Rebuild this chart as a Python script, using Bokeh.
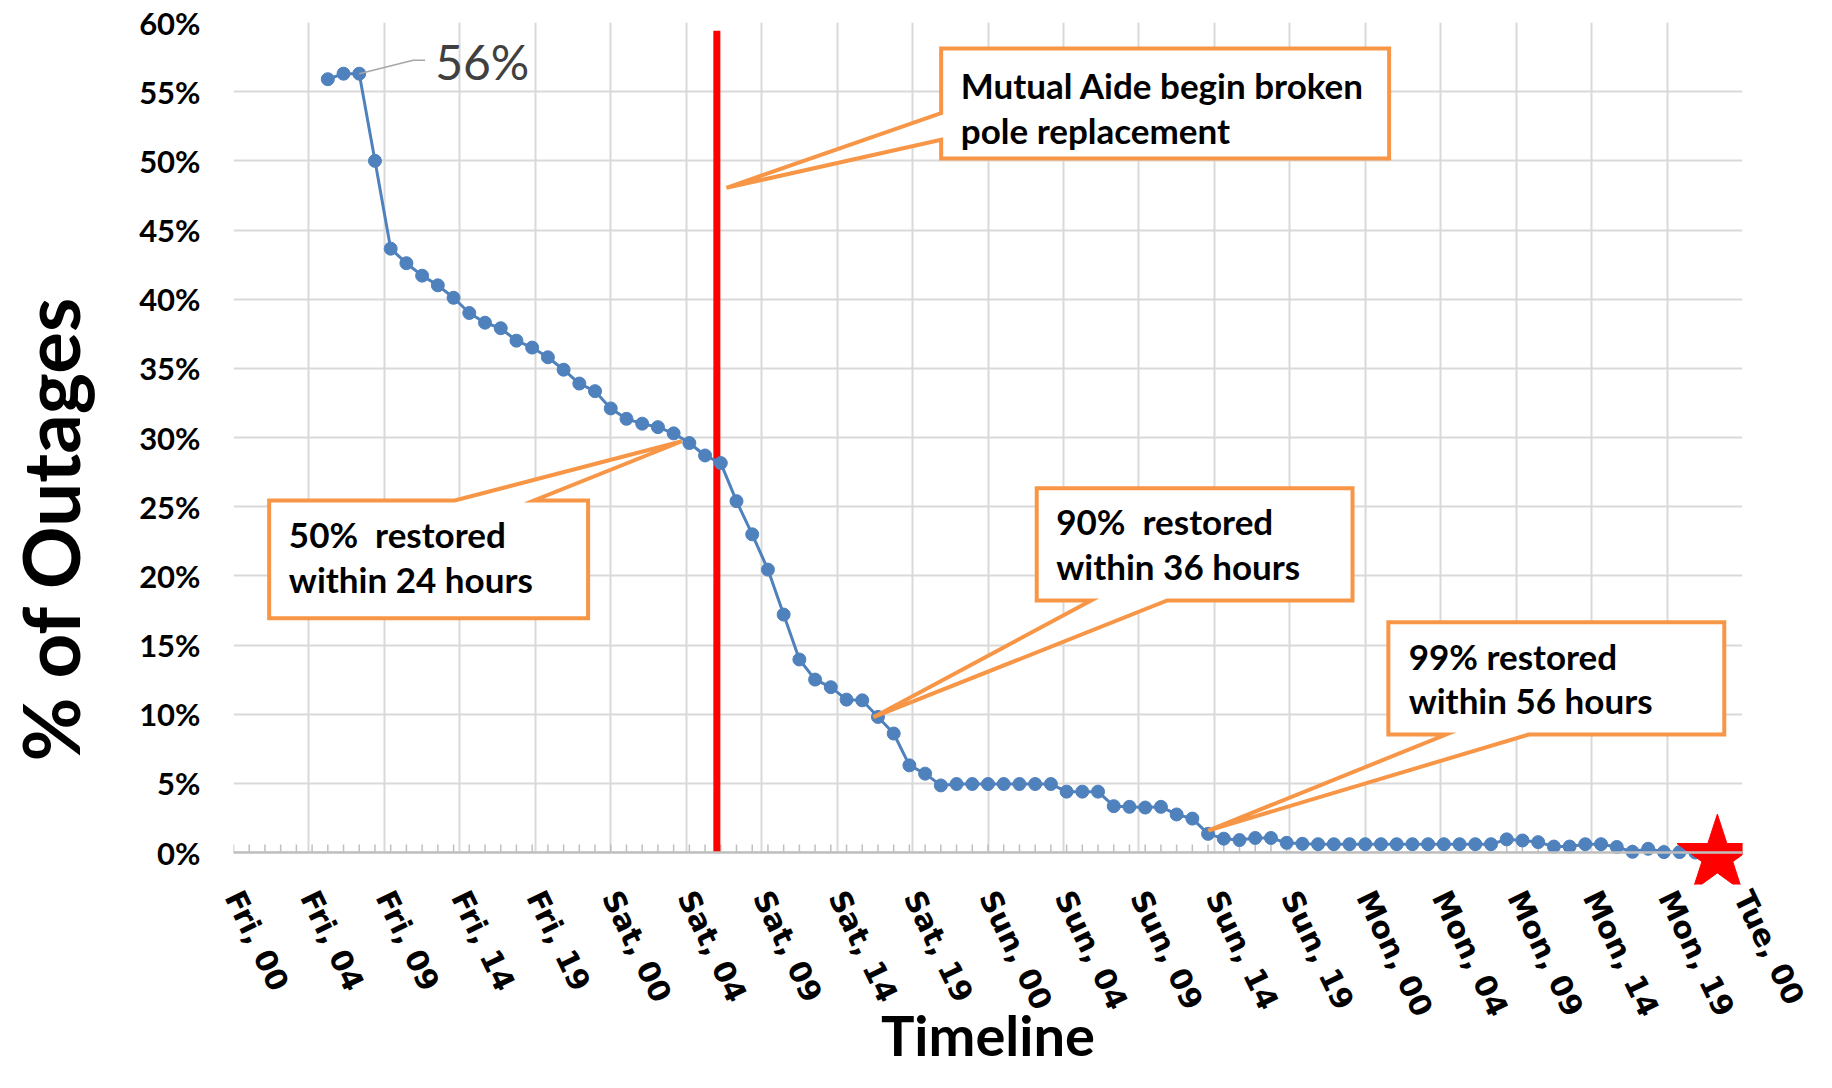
import math
from bokeh.plotting import figure
from bokeh.models import (FixedTicker, CustomJSTickFormatter, Range1d, LinearAxis,
                          BoxAnnotation, Span, Title)
from bokeh.embed import file_html
from bokeh.resources import INLINE
from bokeh.core.properties import value

# ---------------- data ----------------
hours = [6, 7, 8, 9, 10, 11, 12, 13, 14, 15, 16, 17, 18, 19, 20, 21, 22, 23, 24,
         25, 26, 27, 28, 29, 30, 31, 32, 33, 34, 35, 36, 37, 38, 39, 40, 41, 42, 43, 44, 45,
         46, 47, 48, 49, 50, 51, 52, 53, 54, 55,
         56, 57, 58, 59, 60, 61, 62, 63, 64, 65, 66, 67, 68,
         69, 70, 71, 72, 73, 74, 75, 76, 77, 78, 79, 80,
         81, 82, 83, 84, 85, 86, 87, 88, 89, 90, 91, 92, 93]
outage_pct = [55.9, 56.3, 56.3, 50.0, 43.65, 42.6, 41.7, 41.0, 40.1, 39.0, 38.3, 37.9, 37.0, 36.5,
              35.8, 34.9, 33.9, 33.35, 32.1,
              31.35, 31.0, 30.75, 30.3, 29.6, 28.7, 28.15, 25.4, 23.0, 20.45, 17.2, 13.95, 12.5,
              11.95, 11.05, 11.0, 9.8, 8.6, 6.3, 5.7, 4.85,
              4.95, 4.95, 4.95, 4.95, 4.95, 4.95, 4.95, 4.4, 4.4, 4.4,
              3.35, 3.3, 3.25, 3.3, 2.75, 2.45, 1.35, 1.0, 0.9, 1.05, 1.05, 0.7, 0.63,
              0.6, 0.6, 0.6, 0.6, 0.6, 0.6, 0.6, 0.6, 0.6, 0.6, 0.6, 0.6,
              0.95, 0.87, 0.75, 0.43, 0.43, 0.6, 0.6, 0.4, 0.05, 0.27, 0.03, 0.03, 0.0]

peak_hour = [8]
peak_pct = [56.3]
peak_label = ["56%"]

event_hour = [30.75]
event_top = [59.4]

star_hour = [94.4]
star_pct = [-0.3]

x_tick_hours = [0, 4.8, 9.6, 14.4, 19.2, 24, 28.8, 33.6, 38.4, 43.2, 48, 52.8, 57.6,
                62.4, 67.2, 72, 76.8, 81.6, 86.4, 91.2, 96]
x_tick_labels = ["Fri, 00", "Fri, 04", "Fri, 09", "Fri, 14", "Fri, 19",
                 "Sat, 00", "Sat, 04", "Sat, 09", "Sat, 14", "Sat, 19",
                 "Sun, 00", "Sun, 04", "Sun, 09", "Sun, 14", "Sun, 19",
                 "Mon, 00", "Mon, 04", "Mon, 09", "Mon, 14", "Mon, 19", "Tue, 00"]
x_minor_hours = list(range(0, 97))
y_tick_values = [0, 5, 10, 15, 20, 25, 30, 35, 40, 45, 50, 55, 60]
y_tick_labels = ["0%", "5%", "10%", "15%", "20%", "25%", "30%", "35%", "40%",
                 "45%", "50%", "55%", "60%"]

x_title = "Timeline"
y_title = "% of Outages"

# callouts: box (left, right, bottom, top), pointer geometry, text lines
callouts = [
    dict(box=(45.02, 73.52, 50.17, 58.12), side="left", attach=(51.52, 53.45), tip=(31.36, 48.05),
         text_x=46.27, text_y=(55.51, 52.26), lines=["Mutual Aide begin broken", "pole replacement"]),
    dict(box=(2.27, 22.56, 16.94, 25.45), side="top", attach=(14.08, 19.12), tip=(28.53, 29.73),
         text_x=3.52, text_y=(23.04, 19.79), lines=["50%\u00a0 restored", "within 24 hours"]),
    dict(box=(51.10, 71.19, 18.22, 26.34), side="bottom", attach=(54.56, 59.40), tip=(40.71, 9.78),
         text_x=52.34, text_y=(24.0, 20.68), lines=["90%\u00a0 restored", "within 36 hours"]),
    dict(box=(73.47, 94.84, 8.53, 16.65), side="bottom", attach=(77.14, 82.40), tip=(62.01, 1.59),
         text_x=74.76, text_y=(14.24, 10.99), lines=["99% restored", "within 56 hours"]),
]

FONT = "Lato"
BLUE = "#4F81BD"
ORANGE = "#F79646"
AXIS_GREY = "#bfbfbf"
Y_MIN = -2.313         # room below the zero line for the end marker
TICK_LEN = 0.58        # inner tick length (in % units, ~8 px)

p = figure(width=1816, height=1072, x_range=Range1d(0, 96), y_range=Range1d(Y_MIN, 60),
           output_backend="svg", toolbar_location=None,
           min_border_left=233, min_border_right=74, min_border_top=22, min_border_bottom=188)
p.outline_line_color = None
p.background_fill_color = "white"
p.border_fill_color = "white"

# ---- x axis (labels only; the visible axis line sits at 0 %) ----
xa = p.xaxis[0]
xa.ticker = FixedTicker(ticks=x_tick_hours, minor_ticks=x_minor_hours)
xa.formatter = CustomJSTickFormatter(
    args=dict(pos=x_tick_hours, labels=x_tick_labels),
    code="const k = pos.findIndex(v => Math.abs(v - tick) < 1e-6); return k >= 0 ? labels[k] : '';")
xa.axis_line_color = None
xa.major_tick_line_color = None
xa.minor_tick_line_color = None
xa.major_tick_in = 0
xa.major_tick_out = 0
xa.minor_tick_in = 0
xa.minor_tick_out = 0
xa.major_label_text_font = "DejaVu Sans"
xa.major_label_text_font_style = "bold"
xa.major_label_text_font_size = "30px"
xa.major_label_text_color = "black"
xa.major_label_orientation = -1.12
xa.major_label_standoff = 8
xa.axis_label = x_title
xa.axis_label_text_font = FONT
xa.axis_label_text_font_style = "bold"
xa.axis_label_text_font_size = "56px"
xa.axis_label_text_color = "black"
xa.axis_label_standoff = -32

# ---- y axis ----
ya = p.yaxis[0]
ya.ticker = FixedTicker(ticks=y_tick_values)
ya.formatter = CustomJSTickFormatter(
    args=dict(pos=y_tick_values, labels=y_tick_labels),
    code="const k = pos.findIndex(v => Math.abs(v - tick) < 1e-6); return k >= 0 ? labels[k] : '';")
ya.axis_line_color = None
ya.major_tick_line_color = None
ya.minor_tick_line_color = None
ya.major_tick_out = 0
ya.major_tick_in = 0
ya.major_label_text_font = FONT
ya.major_label_text_font_style = "bold"
ya.major_label_text_font_size = "31px"
ya.major_label_text_color = "black"
ya.major_label_standoff = 33

# blank spacer between the tick labels and the y title (one white tick, empty label)
spacer = LinearAxis(ticker=FixedTicker(ticks=[Y_MIN + 0.3]), axis_line_color=None,
                    major_tick_line_color="white", minor_tick_line_color=None,
                    major_tick_out=40, major_tick_in=0, major_label_standoff=0,
                    formatter=CustomJSTickFormatter(code="return '';"))
p.add_layout(spacer, "left")

ytitle = Title(text=y_title, align="left", offset=123, text_font=FONT, text_font_style="bold",
               text_font_size="78px", text_color="black")
if "standoff" in ytitle.properties():
    ytitle.standoff = 0
p.add_layout(ytitle, "left")

p.xgrid.ticker = FixedTicker(ticks=x_tick_hours)
p.xgrid.grid_line_color = "#d9d9d9"
p.ygrid.grid_line_color = "#d9d9d9"
p.xgrid.grid_line_width = 2
p.ygrid.grid_line_width = 2

# white mask below the zero line (room for the star marker)
p.add_layout(BoxAnnotation(top=0, fill_color="white", fill_alpha=1.0, line_color=None, level="underlay"))

# visible horizontal axis line at 0 % with inward hourly ticks
p.segment(x0=x_minor_hours, y0=[0] * len(x_minor_hours), x1=x_minor_hours,
          y1=[TICK_LEN] * len(x_minor_hours), line_color=AXIS_GREY, line_width=1.5)
p.add_layout(Span(location=0, dimension="width", line_color=AXIS_GREY, line_width=2.5))

# red event line
p.segment(x0=event_hour, y0=[0], x1=event_hour, y1=event_top, line_color="#FF0000", line_width=7)

# series
p.line(hours, outage_pct, line_color=BLUE, line_width=3)
p.scatter(hours, outage_pct, size=13, fill_color=BLUE, line_color=BLUE)

# peak label with leader
p.line([peak_hour[0], 11.43, 12.19], [peak_pct[0], 57.27, 57.27], line_color="#a6a6a6", line_width=1.5)
p.text(x=[12.83], y=[57.16], text=peak_label, text_font=value(FONT), text_font_size="48px",
       text_color="#404040", text_align="left", text_baseline="middle")

# callouts
for c in callouts:
    l, r, b, t = c["box"]
    a1, a2 = c["attach"]
    tx, ty = c["tip"]
    if c["side"] == "left":
        xs = [l, r, r, l, l, tx, l]
        ys = [t, t, b, b, a1, ty, a2]
    elif c["side"] == "top":
        xs = [l, a1, tx, a2, r, r, l]
        ys = [t, t, ty, t, t, b, b]
    else:
        xs = [l, r, r, a2, tx, a1, l]
        ys = [t, t, b, b, ty, b, b]
    p.patch(xs, ys, fill_color="white", line_color=ORANGE, line_width=4, line_join="miter")
    p.text(x=[c["text_x"], c["text_x"]], y=list(c["text_y"]), text=c["lines"],
           text_font=value(FONT), text_font_style="bold", text_font_size="35px",
           text_color="black", text_align="left", text_baseline="middle")

# end marker
p.scatter(star_hour, star_pct, marker="star", size=85, fill_color="#FF0000", line_color="#FF0000")

open("out.html", "w").write(file_html(p, INLINE))
